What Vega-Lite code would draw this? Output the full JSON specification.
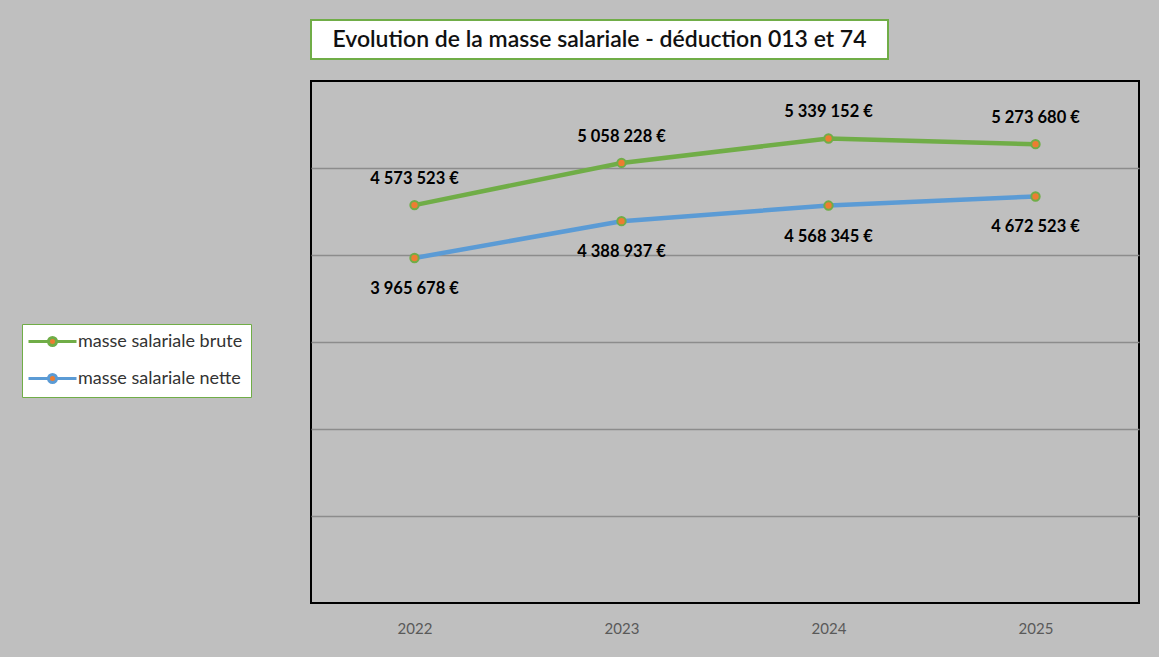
{
  "$schema": "https://vega.github.io/schema/vega-lite/v6.json",
  "autosize": {"type": "pad"},
  "padding": {"left": 21, "top": 19, "right": 20, "bottom": 20},
  "background": "#bfbfbf",
  "config": {
    "locale": {
      "number": {"decimal": ",", "thousands": "\u00a0", "grouping": [3], "currency": ["", "\u00a0€"]}
    },
    "font": "Lato",
    "view": {"stroke": null}
  },
  "datasets": {
    "titre": [{"titre": "Evolution de la masse salariale - déduction 013 et 74"}],
    "masse": [
      {"annee": "2022", "serie": "masse salariale brute", "valeur": 4573523},
      {"annee": "2023", "serie": "masse salariale brute", "valeur": 5058228},
      {"annee": "2024", "serie": "masse salariale brute", "valeur": 5339152},
      {"annee": "2025", "serie": "masse salariale brute", "valeur": 5273680},
      {"annee": "2022", "serie": "masse salariale nette", "valeur": 3965678},
      {"annee": "2023", "serie": "masse salariale nette", "valeur": 4388937},
      {"annee": "2024", "serie": "masse salariale nette", "valeur": 4568345},
      {"annee": "2025", "serie": "masse salariale nette", "valeur": 4672523}
    ]
  },
  "vconcat": [
    {
      "width": 577,
      "height": 39,
      "view": {"fill": "white", "stroke": "#70ad47", "strokeWidth": 2},
      "data": {"name": "titre"},
      "mark": {"type": "text", "font": "Lato", "fontSize": 23, "fontWeight": 600, "color": "#111111", "align": "center", "baseline": "middle"},
      "encoding": {"text": {"field": "titre"}}
    },
    {
      "width": 828,
      "height": 522,
      "view": {"fill": "#bfbfbf", "stroke": "#000000", "strokeWidth": 2},
      "data": {"name": "masse"},
      "encoding": {
        "x": {
          "field": "annee", "type": "ordinal",
          "scale": {"type": "point", "padding": 0.5},
          "axis": {"title": null, "domain": false, "ticks": false, "labelAngle": 0, "labelFont": "Lato", "labelFontSize": 15, "labelColor": "#595959", "labelPadding": 18, "grid": false}
        },
        "y": {
          "field": "valeur", "type": "quantitative",
          "scale": {"domain": [0, 6000000], "nice": false, "zero": true},
          "axis": {"title": null, "labels": false, "ticks": false, "domain": false, "grid": true, "values": [1000000, 2000000, 3000000, 4000000, 5000000], "gridColor": "#8c8c8c", "gridWidth": 1.5}
        }
      },
      "layer": [
        {
          "mark": {"type": "line", "strokeWidth": 4.5},
          "encoding": {
            "stroke": {
              "field": "serie", "type": "nominal",
              "scale": {"domain": ["masse salariale brute", "masse salariale nette"], "range": ["#70ad47", "#5b9bd5"]},
              "legend": {
                "title": null, "orient": "none", "legendX": -289, "legendY": 304,
                "fillColor": "white", "strokeColor": "#70ad47", "padding": 8,
                "symbolType": "M-3,0H-0.5M0.5,0H3M-0.5,0A0.5,0.5 0 1,0 0.5,0A0.5,0.5 0 1,0 -0.5,0Z",
                "symbolSize": 256, "symbolStrokeWidth": 3, "symbolOffset": 13, "labelOffset": 16, "labelLimit": 400,
                "rowPadding": 16, "labelFont": "Lato", "labelFontSize": 18, "labelColor": "#333333"
              }
            }
          }
        },
        {
          "mark": {"type": "point", "filled": true, "size": 70, "stroke": "#70ad47", "strokeWidth": 2, "opacity": 1},
          "encoding": {
            "fill": {
              "field": "serie", "type": "nominal",
              "scale": {"domain": ["masse salariale brute", "masse salariale nette"], "range": ["#ed7d31", "#ed7d31"]},
              "legend": {
                "title": null, "orient": "none", "legendX": -289, "legendY": 304,
                "fillColor": "white", "strokeColor": "#70ad47", "padding": 8,
                "symbolType": "M-3,0H-0.5M0.5,0H3M-0.5,0A0.5,0.5 0 1,0 0.5,0A0.5,0.5 0 1,0 -0.5,0Z",
                "symbolSize": 256, "symbolStrokeWidth": 3, "symbolOffset": 13, "labelOffset": 16, "labelLimit": 400,
                "rowPadding": 16, "labelFont": "Lato", "labelFontSize": 18, "labelColor": "#333333"
              }
            }
          }
        },
        {
          "transform": [{"filter": "datum.serie === 'masse salariale brute'"}],
          "mark": {"type": "text", "font": "Lato", "fontWeight": "bold", "fontSize": 16.5, "color": "#000000", "dy": -26, "baseline": "middle"},
          "encoding": {"text": {"field": "valeur", "type": "quantitative", "format": "$,.0f"}}
        },
        {
          "transform": [{"filter": "datum.serie === 'masse salariale nette'"}],
          "mark": {"type": "text", "font": "Lato", "fontWeight": "bold", "fontSize": 16.5, "color": "#000000", "dy": 31, "baseline": "middle"},
          "encoding": {"text": {"field": "valeur", "type": "quantitative", "format": "$,.0f"}}
        }
      ]
    }
  ],
  "spacing": 20
}
